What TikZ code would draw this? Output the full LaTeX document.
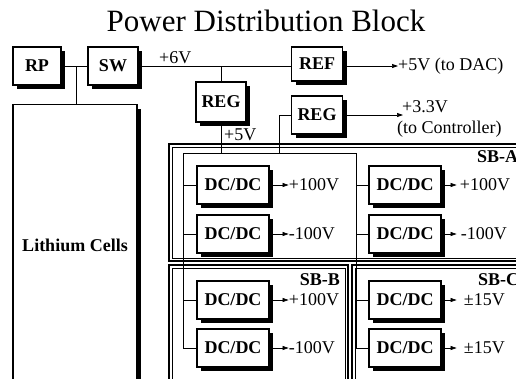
\documentclass[tikz,border=0pt]{standalone}
\usepackage{fontspec}
\setmainfont{Liberation Serif}
\usetikzlibrary{arrows.meta,shadows}
\begin{document}
\begin{tikzpicture}[x=1pt,y=-1pt,
  box/.style={draw, fill=white, line width=1.2pt, inner sep=0pt,
    font=\fontsize{18}{18}\selectfont\bfseries,
    drop shadow={shadow xshift=4pt, shadow yshift=-4pt, fill=black, opacity=1}},
  dcbox/.style={box, minimum width=72pt, minimum height=38pt},
  wire/.style={line width=0.7pt},
  arr/.style={wire, -{Triangle[length=6pt,width=4pt]}},
  lbl/.style={font=\fontsize{18}{18}\selectfont, inner sep=0pt},
  sbl/.style={font=\fontsize{18}{18}\selectfont\bfseries, inner sep=0pt},
  sbout/.style={line width=1.6pt},
  sbin/.style={line width=0.6pt}]
\useasboundingbox (0,0) rectangle (516,378);
\clip (0,0) rectangle (516,378);
\fill[white] (0,0) rectangle (516,378);

\node[font=\fontsize{31}{31}\selectfont, inner sep=0pt] (title) at (266,21) {Power Distribution Block};

% sub-board frames
\draw[sbout] (169,144) rectangle (560,261);
\draw[sbin] (172,147) rectangle (560,258);
\draw[sbout] (169,265) rectangle (348,420);
\draw[sbin] (172,268) rectangle (345,420);
\draw[sbout] (352,265) rectangle (560,420);
\draw[sbin] (355,268) rectangle (560,420);
\node[sbl, anchor=west] (sba) at (477,157) {SB-A};
\node[sbl, anchor=east] (sbb) at (340,280) {SB-B};
\node[sbl, anchor=west] (sbc) at (478,280) {SB-C};

% top blocks
\node[box, minimum width=48pt, minimum height=38pt] (RP) at (37,66) {RP};
\node[box, minimum width=50pt, minimum height=38pt] (SW) at (113,66) {SW};
\node[box, minimum width=124pt, minimum height=320pt, anchor=north] (LC) at (75,104) {};
\node[sbl] (LCt) at (75,245) {Lithium Cells};
\node[box, minimum width=50pt, minimum height=40pt] (REG1) at (221,102) {REG};
\node[box, minimum width=51pt, minimum height=34pt] (REF) at (317,64) {REF};
\node[box, minimum width=51pt, minimum height=38pt] (REG2) at (317,115) {REG};

% DC/DC converters
\node[dcbox] (D1) at (233,185) {DC/DC};
\node[dcbox] (D2) at (233,234) {DC/DC};
\node[dcbox] (D3) at (233,300) {DC/DC};
\node[dcbox] (D4) at (233,348) {DC/DC};
\node[dcbox] (D5) at (405,185) {DC/DC};
\node[dcbox] (D6) at (405,234) {DC/DC};
\node[dcbox] (D7) at (405,300) {DC/DC};
\node[dcbox] (D8) at (405,348) {DC/DC};

% wiring
\coordinate (j1) at (76,66);
\draw[wire] (RP.east) -- (SW.west);
\draw[wire] (j1) -- (j1 |- LC.north);
\draw[wire] (SW.east) -- (SW.east -| REF.west);
\node[lbl, anchor=south west] (v6) at (159,64) {+6V};
\draw[wire] (REG1.north) -- (REG1.north |- SW.east);

\coordinate (dac) at (398,66);
\draw[arr] (REF.east |- dac) -- (dac);
\node[lbl, anchor=west] (dacl) at (dac) {+5V (to DAC)};
\coordinate (ctl) at (403,115);
\draw[arr] (REG2.east) -- (ctl);
\node[lbl, anchor=south west] (v33) at (402,113) {+3.3V};
\node[lbl, anchor=north west] (ctll) at (397,121) {(to Controller)};

\coordinate (busL) at (183,153);
\coordinate (busR) at (356,153);
\coordinate (t2) at (279,153);
\draw[wire] (REG1.south) -- (REG1.south |- busL);
\node[lbl, anchor=west] (v5) at (224,135) {+5V};
\draw[wire] (REG2.west) -| (t2);
\draw[wire] (D4.west -| busL) -- (busL) -- (busR) -- (D8.west -| busR);
\foreach \n in {D1,D2,D3,D4} \draw[wire] (\n.west) -- (\n.west -| busL);
\foreach \n in {D5,D6,D7,D8} \draw[wire] (\n.west) -- (\n.west -| busR);

\draw[arr] (D1.east) -- ++(19,0) node[lbl, anchor=west] (o1) {+100V};
\draw[arr] (D2.east) -- ++(19,0) node[lbl, anchor=west] (o2) {-100V};
\draw[arr] (D3.east) -- ++(19,0) node[lbl, anchor=west] (o3) {+100V};
\draw[arr] (D4.east) -- ++(19,0) node[lbl, anchor=west] (o4) {-100V};
\draw[arr] (D5.east) -- ++(15,0) node[lbl, anchor=west, xshift=3pt] (o5) {+100V};
\draw[arr] (D6.east) -- ++(15,0) node[lbl, anchor=west, xshift=4pt] (o6) {-100V};
\draw[arr] (D7.east) -- ++(15,0) node[lbl, anchor=west, xshift=7pt] (o7) {±15V};
\draw[arr] (D8.east) -- ++(15,0) node[lbl, anchor=west, xshift=7pt] (o8) {±15V};
\end{tikzpicture}
\end{document}
